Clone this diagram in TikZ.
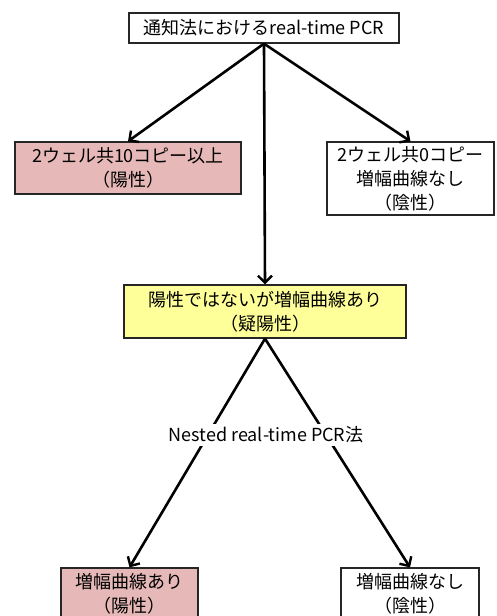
\documentclass[tikz,border=0pt]{standalone}
\usepackage{fontspec}
\setmainfont{Noto Sans CJK JP}
\usepackage{xcolor}
\usetikzlibrary{arrows.meta}
\definecolor{posc}{HTML}{E6B9B8}
\definecolor{suspc}{HTML}{FFFF99}
\definecolor{edgec}{HTML}{262626}
\tikzset{
  ar/.style={-{Straight Barb[length=7pt,width=14pt,line width=2.4pt]},line width=2.6pt,black},
  bx/.style={draw=edgec,line width=1.3pt,fill=white,align=center,inner sep=2pt,font=\fontsize{18}{24}\selectfont}
}
\begin{document}
\begin{tikzpicture}[x=1pt,y=-1pt]
\useasboundingbox (0,0) rectangle (496,616);
\clip (0,0) rectangle (496,616);
\node[bx,minimum width=270,minimum height=30] (top) at (264,28) {通知法におけるreal-time PCR};
\node[bx,fill=posc,minimum width=226,minimum height=52] (pos) at (128,168) {2ウェル共10コピー以上\\（陽性）};
\node[bx,minimum width=167,minimum height=73] (neg) at (410.5,178.5) {2ウェル共0コピー\\増幅曲線なし\\（陰性）};
\node[bx,fill=suspc,minimum width=282,minimum height=53] (susp) at (265,311.5) {陽性ではないが増幅曲線あり\\（疑陽性）};
\node[bx,fill=posc,minimum width=137,minimum height=52] (bpos) at (129.5,594) {増幅曲線あり\\（陽性）};
\node[bx,minimum width=138,minimum height=52] (bneg) at (410,594) {増幅曲線なし\\（陰性）};
\draw[ar] (top.south) -- (pos.north);
\draw[ar] (top.south) -- (neg.north);
\draw[ar] (top.south) -- (susp.north);
\draw[ar] (susp.south) -- (bpos.north);
\draw[ar] (susp.south) -- (bneg.north);
\node[fill=white,inner sep=3pt,font=\fontsize{18}{20}\selectfont] (meth) at (266,435) {Nested real-time PCR法};
\end{tikzpicture}
\end{document}
